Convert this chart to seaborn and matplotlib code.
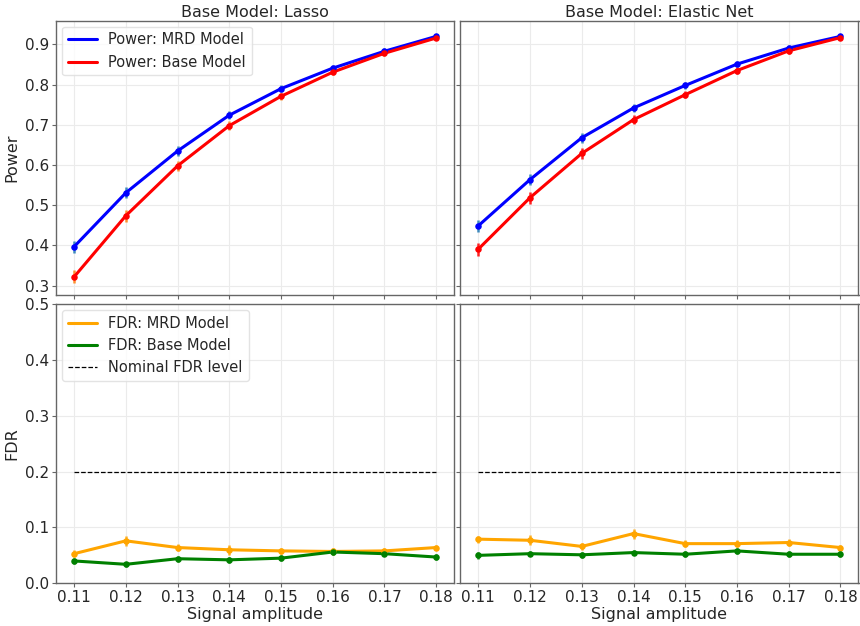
import numpy as np
import pandas as pd
import matplotlib
matplotlib.use("Agg")
import matplotlib.pyplot as plt
import seaborn as sns

amplitudes = [0.11, 0.12, 0.13, 0.14, 0.15, 0.16, 0.17, 0.18]
models = ["Lasso", "Elastic Net"]

power_mrd_lasso = [0.397, 0.531, 0.635, 0.724, 0.790, 0.841, 0.883, 0.920]
power_base_lasso = [0.322, 0.474, 0.598, 0.698, 0.771, 0.831, 0.878, 0.916]
power_mrd_enet = [0.449, 0.564, 0.668, 0.742, 0.798, 0.851, 0.891, 0.920]
power_base_enet = [0.391, 0.519, 0.629, 0.713, 0.775, 0.835, 0.884, 0.917]

fdr_mrd_lasso = [0.053, 0.076, 0.064, 0.060, 0.058, 0.057, 0.058, 0.064]
fdr_base_lasso = [0.040, 0.034, 0.044, 0.042, 0.045, 0.056, 0.053, 0.047]
fdr_mrd_enet = [0.079, 0.077, 0.066, 0.089, 0.071, 0.071, 0.073, 0.064]
fdr_base_enet = [0.050, 0.053, 0.051, 0.055, 0.052, 0.058, 0.052, 0.052]

power_se_mrd = [0.015, 0.014, 0.012, 0.010, 0.009, 0.008, 0.007, 0.006]
power_se_base = [0.016, 0.015, 0.013, 0.011, 0.009, 0.008, 0.007, 0.006]
fdr_se_mrd = [0.006, 0.009, 0.006, 0.009, 0.006, 0.006, 0.006, 0.005]
fdr_se_base = [0.006, 0.005, 0.005, 0.005, 0.005, 0.006, 0.005, 0.005]

nominal_fdr = 0.2

sns.set_theme(style="ticks")
plt.rcParams["font.family"] = ["DejaVu Sans"]

fig, axes = plt.subplots(2, 2, figsize=(8.6, 6.26), dpi=100, sharex=True, sharey="row",
                         gridspec_kw={"height_ratios": [274.6, 279.3]})
fig.subplots_adjust(left=56/860, right=858.5/860, top=1-20.7/626, bottom=1-583.3/626,
                    wspace=0.015, hspace=0.031)

power = {"Lasso": (power_mrd_lasso, power_base_lasso),
         "Elastic Net": (power_mrd_enet, power_base_enet)}
fdr = {"Lasso": (fdr_mrd_lasso, fdr_base_lasso),
       "Elastic Net": (fdr_mrd_enet, fdr_base_enet)}
err_colors = {"Lasso": ("#1f77b4", "#ff7f0e"), "Elastic Net": ("#1f77b4", "red")}


def draw_series(ax, y, se, color, ecolor, label):
    ax.errorbar(amplitudes, y, yerr=se, fmt="none", ecolor=ecolor, elinewidth=1.8, alpha=0.85)
    sns.lineplot(x=amplitudes, y=y, ax=ax, color=color, lw=2.2, label=label)
    sns.scatterplot(x=amplitudes, y=y, ax=ax, color=color, s=22, linewidth=0,
                    legend=False, zorder=3)


for j, m in enumerate(models):
    ax = axes[0, j]
    mrd, base = power[m]
    ec_mrd, ec_base = err_colors[m]
    draw_series(ax, mrd, power_se_mrd, "blue", ec_mrd, "Power: MRD Model")
    draw_series(ax, base, power_se_base, "red", ec_base, "Power: Base Model")
    ax.set_title(f"Base Model: {m}", fontsize=11.5, pad=3)

    ax = axes[1, j]
    mrd, base = fdr[m]
    draw_series(ax, mrd, fdr_se_mrd, "orange", "orange", "FDR: MRD Model")
    draw_series(ax, base, fdr_se_base, "green", "green", "FDR: Base Model")
    ax.hlines(nominal_fdr, amplitudes[0], amplitudes[-1], colors="black",
              linestyles="--", lw=0.9, label="Nominal FDR level")
    ax.set_xlabel("Signal amplitude", fontsize=11.5, labelpad=1)

for ax in axes.flat:
    ax.grid(True, color="#ebebeb", lw=0.8)
    ax.set_axisbelow(True)
    for s in ax.spines.values():
        s.set_color("#666666")
        s.set_linewidth(1)
    ax.tick_params(labelsize=11, color="#666666", length=3, width=0.8, pad=2)
    ax.set_xticks(amplitudes)
    ax.set_xticklabels([f"{a:.2f}" for a in amplitudes])
    if ax.get_legend() is not None:
        ax.get_legend().remove()

axes[0, 0].set_ylim(0.276, 0.959)
axes[0, 0].set_yticks([0.3, 0.4, 0.5, 0.6, 0.7, 0.8, 0.9])
axes[1, 0].set_ylim(0, 0.5)
axes[1, 0].set_yticks([0.0, 0.1, 0.2, 0.3, 0.4, 0.5])
axes[0, 0].set_xlim(0.1065, 0.1835)
axes[0, 0].set_ylabel("Power", fontsize=11.5, labelpad=4)
axes[1, 0].set_ylabel("FDR", fontsize=11.5, labelpad=4)
axes[0, 1].set_ylabel("")
axes[1, 1].set_ylabel("")

for ax in (axes[0, 0], axes[1, 0]):
    ax.legend(loc="upper left", fontsize=10.5, frameon=True, handlelength=2,
              borderaxespad=0.4, edgecolor="#dddddd")

fig.savefig("out.png", dpi=100)
